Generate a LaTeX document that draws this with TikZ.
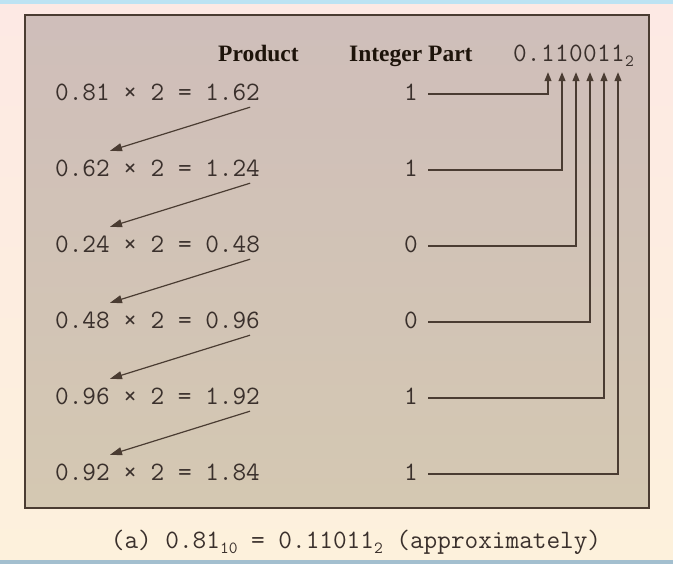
\documentclass[tikz,border=0pt]{standalone}
\usepackage{fontspec}
\setmainfont{Liberation Serif}
\usetikzlibrary{arrows.meta}
\definecolor{bgtop}{HTML}{FDE9E4}
\definecolor{bgbot}{HTML}{FDF1DC}
\definecolor{striptop}{HTML}{BDE3F3}
\definecolor{stripbot}{HTML}{A3BFCF}
\definecolor{boxtop}{HTML}{CFBEBA}
\definecolor{boxbot}{HTML}{D4C8B2}
\definecolor{ink}{HTML}{4A3C32}
\definecolor{txt}{HTML}{3A302C}
\newcommand\sbs[1]{\raisebox{-0.45ex}{\fontsize{17}{17}\selectfont #1}}
\tikzset{
	mono/.style={font=\fontsize{26.5}{30}\selectfont\ttfamily, text=txt},
	prod/.style={mono, anchor=base west, inner sep=0pt, text height=14pt, text depth=0pt},
	intpart/.style={mono, anchor=base, inner xsep=10pt, inner ysep=0pt, text height=14pt, text depth=0pt},
	bit/.style={mono, anchor=base, inner xsep=0pt, inner ysep=10pt, text height=14pt, text depth=0pt},
	head/.style={anchor=base west, inner sep=0pt, font=\fontsize{23.5}{28}\selectfont\bfseries, text=black!85!brown},
	carry/.style={draw=ink, line width=1.2pt, -{Triangle[length=9pt,width=7pt]}},
	next/.style={draw=ink, line width=1.2pt, -{Triangle[length=12pt,width=8pt]}}
}

\begin{document}
\begin{tikzpicture}[x=1pt,y=-1pt]
	\useasboundingbox (0,0) rectangle (673,564);
	\shade[top color=bgtop, bottom color=bgbot] (0,0) rectangle (673,564);
	\fill[striptop] (0,0) rectangle (673,4);
	\fill[stripbot] (0,560) rectangle (673,564);
	\shade[top color=boxtop, bottom color=boxbot, draw=ink, line width=1.8pt] (25,15) rectangle (649,508);
	
	% column heads
	\node[head] (hprod) at (218,62) {Product};
	\node[head] (hint) at (349,62) {Integer Part};
	\node[mono, anchor=base west, inner sep=0pt] (point) at (513,62) {0.};
	\node[bit] (b1) at (548,62) {1};
	\node[bit] (b2) at (562,62) {1};
	\node[bit] (b3) at (576,62) {0};
	\node[bit] (b4) at (590,62) {0};
	\node[bit] (b5) at (604,62) {1};
	\node[bit] (b6) at (618,62) {1};
	\node[anchor=base west, inner sep=0pt, font=\fontsize{17}{17}\selectfont\ttfamily, text=txt] (base) at (625,67) {2};
	
	% products
	\node[prod] (p1) at (55,101) {0.81 × 2 = 1.62};
	\node[prod] (p2) at (55,177) {0.62 × 2 = 1.24};
	\node[prod] (p3) at (55,253) {0.24 × 2 = 0.48};
	\node[prod] (p4) at (55,329) {0.48 × 2 = 0.96};
	\node[prod] (p5) at (55,405) {0.96 × 2 = 1.92};
	\node[prod] (p6) at (55,481) {0.92 × 2 = 1.84};
	
	% integer parts
	\node[intpart] (i1) at (411,101) {1};
	\node[intpart] (i2) at (411,177) {1};
	\node[intpart] (i3) at (411,253) {0};
	\node[intpart] (i4) at (411,329) {0};
	\node[intpart] (i5) at (411,405) {1};
	\node[intpart] (i6) at (411,481) {1};
	
	\draw[next] ([xshift=-10pt,yshift=-6pt]p1.south east) -- ([xshift=55pt,yshift=12pt]p2.north west);
	\draw[next] ([xshift=-10pt,yshift=-6pt]p2.south east) -- ([xshift=55pt,yshift=12pt]p3.north west);
	\draw[next] ([xshift=-10pt,yshift=-6pt]p3.south east) -- ([xshift=55pt,yshift=12pt]p4.north west);
	\draw[next] ([xshift=-10pt,yshift=-6pt]p4.south east) -- ([xshift=55pt,yshift=12pt]p5.north west);
	\draw[next] ([xshift=-10pt,yshift=-6pt]p5.south east) -- ([xshift=55pt,yshift=12pt]p6.north west);
	
	\draw[carry] (i1.east) -| (b1.south);
	\draw[carry] (i2.east) -| (b2.south);
	\draw[carry] (i3.east) -| (b3.south);
	\draw[carry] (i4.east) -| (b4.south);
	\draw[carry] (i5.east) -| (b5.south);
	\draw[carry] (i6.east) -| (b6.south);
	
	\node[mono, anchor=base, inner sep=0pt] (caption) at (356,548) {(a) 0.81\sbs{10} = 0.11011\sbs{2} (approximately)};
\end{tikzpicture}
\end{document}
